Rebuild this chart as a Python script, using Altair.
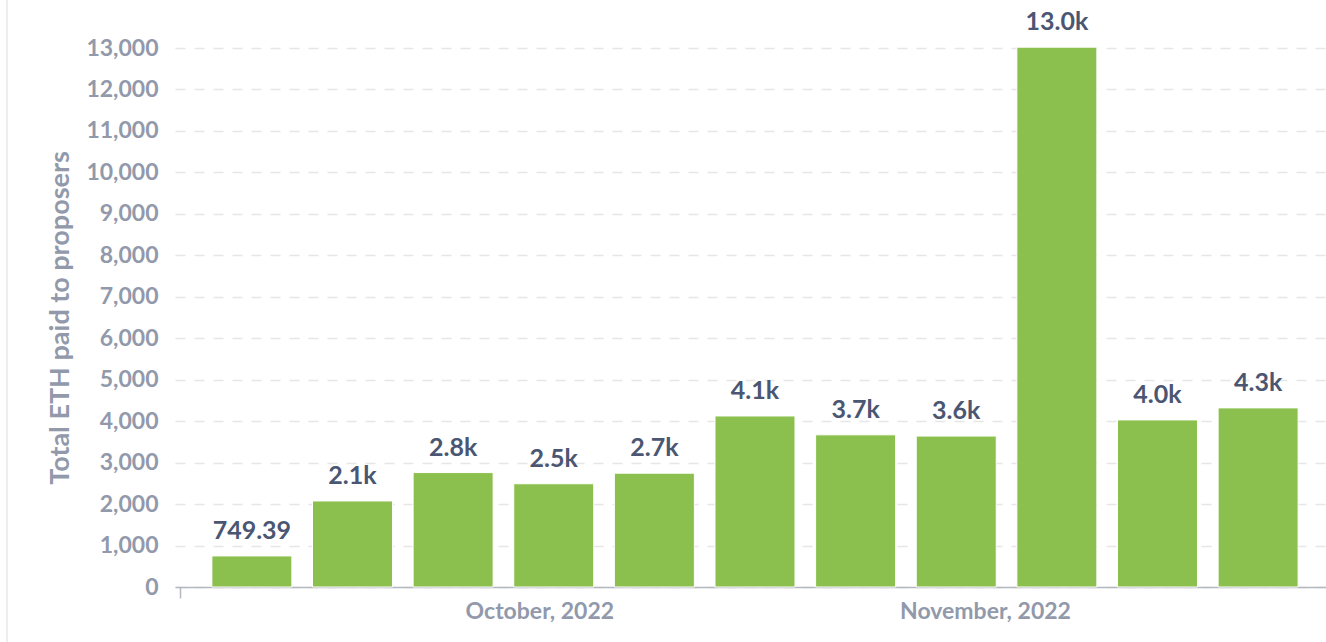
import altair as alt
import pandas as pd

weeks = ["2022-09-11", "2022-09-18", "2022-09-25", "2022-10-02", "2022-10-09",
         "2022-10-16", "2022-10-23", "2022-10-30", "2022-11-06", "2022-11-13", "2022-11-20"]
eth_paid = [749.39, 2075, 2760, 2490, 2745, 4125, 3670, 3640, 13020, 4030, 4320]
bar_labels = ["749.39", "2.1k", "2.8k", "2.5k", "2.7k", "4.1k", "3.7k", "3.6k", "13.0k", "4.0k", "4.3k"]
y_ticks = list(range(0, 13001, 1000))

df = pd.DataFrame({"week": weeks, "eth": eth_paid, "label": bar_labels})

FONT = "Lato"
GREY = "#9199ab"
DARK = "#4a5672"
GREEN = "#8bc04e"

x_scale = alt.Scale(
    type="utc",
    domain=[alt.DateTime(year=2022, month=9, date=6, utc=True),
            alt.DateTime(year=2022, month=11, date=24, hours=9, utc=True)],
)
x_axis = alt.Axis(
    title=None,
    values=[alt.DateTime(year=2022, month=9, date=6, utc=True),
            alt.DateTime(year=2022, month=10, date=1, utc=True),
            alt.DateTime(year=2022, month=11, date=1, utc=True)],
    labelExpr="utcmonth(datum.value) == 8 ? '' : utcFormat(datum.value, '%B, %Y')",
    grid=False,
    domainColor="#b3b7c0",
    domainWidth=1.5,
    tickColor="#b3b7c0",
    tickWidth=1.5,
    tickSize=11,
    tickOpacity={"condition": {"test": "utcmonth(datum.value) == 8", "value": 1}, "value": 0},
    labelFont=FONT,
    labelFontSize=23,
    labelFontWeight="bold",
    labelColor=GREY,
    labelPadding=2,
)
y_scale = alt.Scale(domain=[0, 13000], nice=False)
y_axis = alt.Axis(
    title="Total ETH paid to proposers",
    values=y_ticks,
    format=",d",
    domain=False,
    ticks=False,
    grid=True,
    gridColor="#e6e6e6",
    gridDash=[10, 9],
    gridWidth=1.5,
    labelFont=FONT,
    labelFontSize=23,
    labelFontWeight="bold",
    labelColor=GREY,
    labelPadding=17,
    titleFont=FONT,
    titleFontSize=27,
    titleFontWeight="bold",
    titleColor=GREY,
    titlePadding=11,
)

base = alt.Chart(df).encode(
    x=alt.X("week:T", scale=x_scale, axis=x_axis),
    y=alt.Y("eth:Q", scale=y_scale, axis=y_axis),
)

bars = base.mark_bar(width=80, color=GREEN, stroke="#ffffff", strokeWidth=1)
texts = base.mark_text(
    baseline="bottom", align="center", dy=-12,
    font=FONT, fontSize=25, fontWeight="bold", color=DARK,
).encode(text="label:N")

# faint page edge seen at the far left of the reference screenshot
edge = alt.Chart(df).mark_rule(color="#eeeeee", strokeWidth=2).encode(
    x=alt.value(-168), y=alt.value(-48), y2=alt.value(594)
)

chart = alt.layer(edge, bars, texts).properties(
    width=1151,
    height=539,
    autosize=alt.AutoSizeParams(type="none"),
    padding={"left": 175, "top": 48, "right": 0, "bottom": 55},
    background="white",
).configure_view(stroke=None)

chart.save("out.html", embed_options={"renderer": "svg", "actions": False})
